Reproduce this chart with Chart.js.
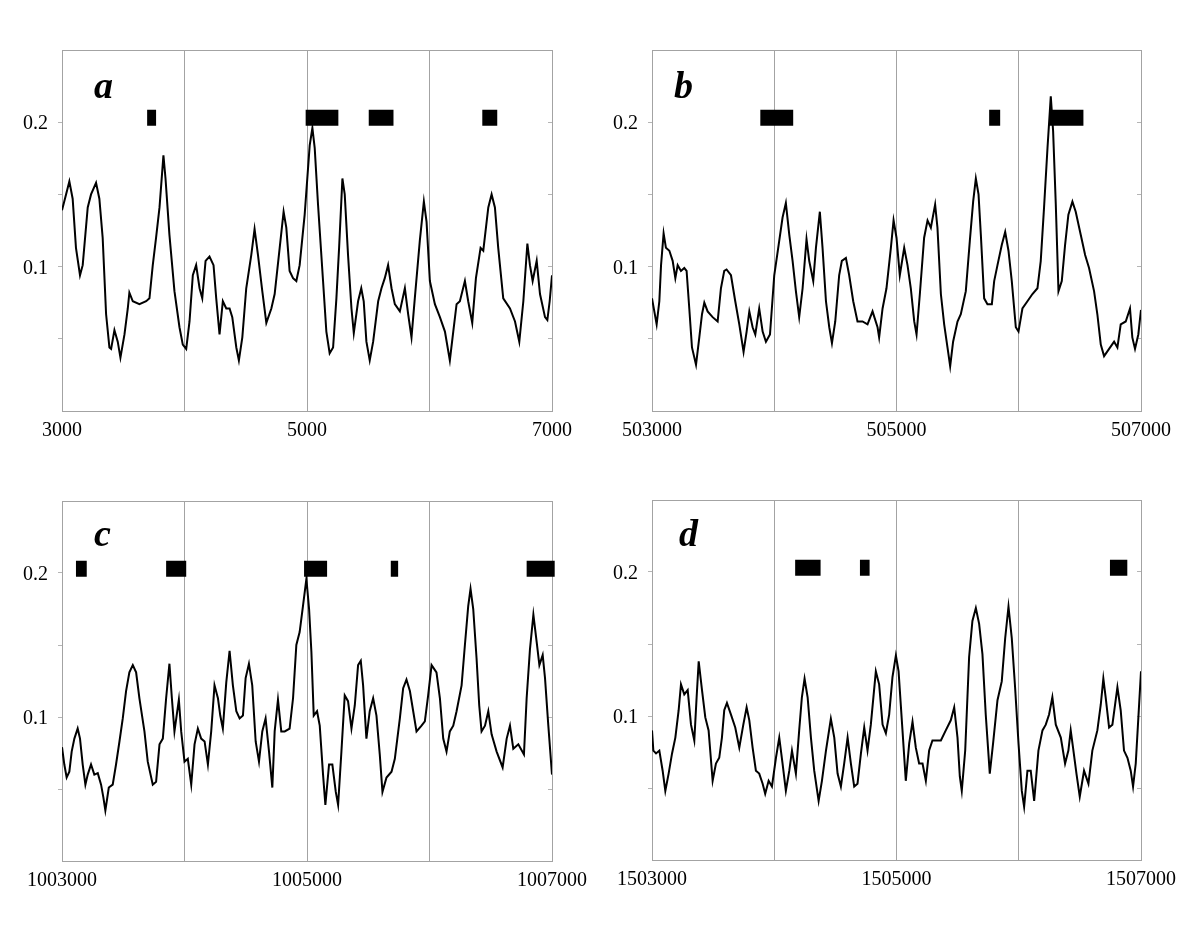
<!DOCTYPE html>
<html>
<head>
<meta charset="utf-8">
<script src="https://cdn.jsdelivr.net/npm/chart.js@4.4.1/dist/chart.umd.min.js"></script>
<style>
html,body{margin:0;padding:0;background:#fff;}
#wrap{position:relative;width:1200px;height:948px;overflow:hidden;}
.panel{position:absolute;}
.lbl{position:absolute;font-family:'Liberation Serif','Times New Roman',serif;font-style:italic;font-weight:bold;font-size:38px;line-height:38px;color:#000;}
</style>
</head>
<body>
<div id="wrap">
  <div class="panel" style="left:0;top:0;width:600px;height:450px"><canvas id="ca"></canvas></div>
  <div class="panel" style="left:600px;top:0;width:600px;height:450px"><canvas id="cb"></canvas></div>
  <div class="panel" style="left:0;top:450px;width:600px;height:498px"><canvas id="cc"></canvas></div>
  <div class="panel" style="left:600px;top:450px;width:600px;height:498px"><canvas id="cd"></canvas></div>
  <div class="lbl" style="left:94px;top:66px">a</div>
  <div class="lbl" style="left:674px;top:66px">b</div>
  <div class="lbl" style="left:94px;top:514px">c</div>
  <div class="lbl" style="left:679px;top:514px">d</div>
</div>
<script>
// ---------- data ----------
const panelLetters = ['a','b','c','d'];
const windowStarts = [3000, 503000, 1003000, 1503000];
const windowEnds   = [7000, 507000, 1007000, 1507000];
const xTickLabelsA = [3000, 5000, 7000];
const xTickLabelsB = [503000, 505000, 507000];
const xTickLabelsC = [1003000, 1005000, 1007000];
const xTickLabelsD = [1503000, 1505000, 1507000];
const yTickLabels = [0.1, 0.2];
const boxLevel = 0.203;

const traceA = [[3000,0.139],[3033,0.150],[3060,0.159],[3087,0.147],[3114,0.113],[3147,0.094],[3169,0.101],[3210,0.141],[3237,0.150],[3278,0.158],[3305,0.147],[3332,0.120],[3360,0.067],[3387,0.044],[3401,0.043],[3428,0.056],[3455,0.048],[3477,0.037],[3510,0.053],[3537,0.071],[3550,0.082],[3578,0.076],[3632,0.074],[3687,0.076],[3714,0.078],[3741,0.101],[3768,0.120],[3796,0.141],[3828,0.177],[3845,0.161],[3877,0.122],[3918,0.083],[3959,0.058],[3986,0.046],[4014,0.043],[4041,0.062],[4068,0.094],[4095,0.101],[4123,0.085],[4145,0.078],[4172,0.104],[4204,0.107],[4237,0.101],[4259,0.078],[4286,0.053],[4313,0.076],[4341,0.071],[4368,0.071],[4390,0.065],[4423,0.044],[4444,0.035],[4472,0.051],[4504,0.085],[4545,0.108],[4572,0.126],[4600,0.108],[4635,0.083],[4668,0.061],[4709,0.071],[4736,0.081],[4777,0.113],[4809,0.138],[4831,0.127],[4858,0.097],[4886,0.092],[4913,0.090],[4940,0.101],[4981,0.136],[5022,0.184],[5044,0.196],[5063,0.182],[5090,0.143],[5131,0.090],[5158,0.055],[5185,0.040],[5213,0.044],[5240,0.078],[5262,0.113],[5289,0.161],[5308,0.150],[5335,0.108],[5363,0.071],[5382,0.054],[5417,0.076],[5443,0.085],[5463,0.076],[5485,0.048],[5512,0.035],[5540,0.048],[5581,0.076],[5608,0.085],[5635,0.092],[5662,0.101],[5690,0.085],[5717,0.074],[5758,0.069],[5799,0.085],[5826,0.067],[5853,0.051],[5880,0.078],[5921,0.118],[5954,0.145],[5976,0.131],[6003,0.090],[6044,0.074],[6085,0.065],[6126,0.055],[6166,0.035],[6194,0.055],[6221,0.074],[6248,0.076],[6289,0.090],[6316,0.076],[6349,0.061],[6379,0.092],[6417,0.113],[6439,0.111],[6480,0.141],[6507,0.150],[6534,0.141],[6561,0.113],[6602,0.078],[6657,0.071],[6698,0.062],[6733,0.048],[6766,0.076],[6799,0.116],[6820,0.101],[6842,0.090],[6875,0.104],[6902,0.081],[6943,0.065],[6962,0.063],[6981,0.076],[7000,0.094]];

const traceB = [[503000,0.078],[503019,0.069],[503038,0.060],[503060,0.076],[503074,0.101],[503095,0.123],[503114,0.113],[503142,0.111],[503169,0.104],[503191,0.092],[503210,0.101],[503237,0.097],[503264,0.099],[503283,0.097],[503305,0.071],[503327,0.044],[503360,0.032],[503387,0.051],[503409,0.067],[503428,0.075],[503455,0.069],[503496,0.065],[503537,0.062],[503564,0.085],[503591,0.097],[503610,0.098],[503646,0.094],[503681,0.076],[503714,0.060],[503749,0.041],[503774,0.055],[503796,0.069],[503823,0.058],[503845,0.053],[503877,0.071],[503905,0.055],[503932,0.048],[503965,0.053],[504000,0.094],[504036,0.115],[504068,0.134],[504095,0.144],[504123,0.122],[504150,0.104],[504177,0.083],[504204,0.065],[504232,0.085],[504264,0.119],[504286,0.104],[504319,0.090],[504341,0.113],[504373,0.138],[504395,0.113],[504423,0.076],[504450,0.058],[504472,0.047],[504499,0.062],[504531,0.094],[504553,0.104],[504586,0.106],[504613,0.094],[504646,0.076],[504681,0.062],[504722,0.062],[504763,0.060],[504804,0.069],[504845,0.058],[504858,0.051],[504886,0.071],[504918,0.085],[504954,0.113],[504976,0.132],[505000,0.120],[505027,0.094],[505063,0.113],[505090,0.101],[505117,0.085],[505145,0.062],[505164,0.053],[505191,0.081],[505226,0.120],[505254,0.132],[505281,0.127],[505316,0.143],[505335,0.127],[505363,0.081],[505390,0.060],[505417,0.044],[505439,0.031],[505463,0.048],[505499,0.062],[505526,0.067],[505567,0.083],[505600,0.118],[505627,0.145],[505649,0.161],[505671,0.150],[505690,0.122],[505717,0.078],[505744,0.074],[505780,0.074],[505799,0.090],[505826,0.101],[505861,0.115],[505889,0.124],[505916,0.111],[505943,0.090],[505976,0.058],[505998,0.055],[506030,0.071],[506071,0.076],[506112,0.081],[506153,0.085],[506180,0.104],[506207,0.141],[506235,0.182],[506262,0.218],[506281,0.194],[506303,0.143],[506325,0.083],[506352,0.090],[506379,0.115],[506406,0.136],[506439,0.145],[506466,0.138],[506507,0.122],[506543,0.108],[506575,0.099],[506616,0.083],[506643,0.067],[506671,0.046],[506698,0.038],[506739,0.043],[506780,0.048],[506807,0.044],[506834,0.060],[506875,0.062],[506910,0.071],[506929,0.051],[506951,0.043],[506978,0.053],[507000,0.070]];

const traceC = [[1003000,0.079],[1003019,0.067],[1003038,0.058],[1003060,0.062],[1003079,0.076],[1003101,0.085],[1003128,0.092],[1003147,0.085],[1003169,0.067],[1003191,0.053],[1003210,0.060],[1003237,0.067],[1003264,0.060],[1003292,0.061],[1003319,0.053],[1003338,0.044],[1003354,0.035],[1003382,0.051],[1003414,0.053],[1003441,0.067],[1003469,0.083],[1003496,0.099],[1003523,0.118],[1003550,0.131],[1003578,0.136],[1003605,0.131],[1003632,0.113],[1003673,0.090],[1003700,0.069],[1003741,0.053],[1003768,0.055],[1003796,0.081],[1003823,0.085],[1003850,0.113],[1003877,0.137],[1003897,0.113],[1003918,0.090],[1003954,0.112],[1003973,0.090],[1004000,0.069],[1004027,0.071],[1004055,0.053],[1004082,0.081],[1004109,0.092],[1004136,0.085],[1004164,0.083],[1004191,0.067],[1004218,0.090],[1004245,0.122],[1004273,0.113],[1004292,0.101],[1004313,0.092],[1004341,0.124],[1004368,0.146],[1004395,0.122],[1004423,0.104],[1004450,0.099],[1004477,0.101],[1004499,0.127],[1004526,0.137],[1004553,0.122],[1004581,0.083],[1004608,0.069],[1004635,0.090],[1004662,0.099],[1004690,0.076],[1004717,0.051],[1004736,0.090],[1004763,0.112],[1004790,0.090],[1004818,0.090],[1004858,0.092],[1004886,0.113],[1004913,0.150],[1004940,0.159],[1004967,0.177],[1004995,0.196],[1005017,0.175],[1005036,0.145],[1005055,0.101],[1005082,0.104],[1005104,0.094],[1005131,0.060],[1005150,0.039],[1005180,0.067],[1005207,0.067],[1005235,0.048],[1005254,0.039],[1005281,0.076],[1005308,0.115],[1005335,0.111],[1005363,0.092],[1005390,0.108],[1005417,0.136],[1005439,0.139],[1005458,0.122],[1005485,0.085],[1005512,0.104],[1005540,0.113],[1005567,0.101],[1005594,0.074],[1005616,0.048],[1005649,0.058],[1005690,0.062],[1005717,0.071],[1005758,0.099],[1005785,0.120],[1005812,0.126],[1005840,0.118],[1005867,0.104],[1005894,0.090],[1005935,0.094],[1005962,0.097],[1005989,0.115],[1006017,0.136],[1006057,0.131],[1006085,0.113],[1006112,0.085],[1006139,0.076],[1006166,0.090],[1006194,0.094],[1006221,0.104],[1006262,0.122],[1006289,0.150],[1006316,0.177],[1006335,0.189],[1006357,0.175],[1006384,0.141],[1006406,0.108],[1006425,0.090],[1006453,0.094],[1006480,0.104],[1006507,0.088],[1006548,0.076],[1006597,0.065],[1006630,0.085],[1006657,0.094],[1006684,0.078],[1006725,0.081],[1006771,0.074],[1006793,0.113],[1006820,0.147],[1006848,0.171],[1006875,0.152],[1006897,0.136],[1006924,0.143],[1006943,0.127],[1006970,0.094],[1007000,0.060]];

const traceD = [[1503000,0.090],[1503011,0.076],[1503033,0.074],[1503060,0.076],[1503087,0.062],[1503109,0.048],[1503136,0.060],[1503164,0.074],[1503191,0.085],[1503218,0.104],[1503237,0.122],[1503264,0.115],[1503292,0.118],[1503319,0.094],[1503346,0.083],[1503365,0.113],[1503382,0.138],[1503409,0.118],[1503436,0.099],[1503463,0.090],[1503496,0.055],[1503523,0.067],[1503550,0.071],[1503572,0.085],[1503591,0.104],[1503613,0.109],[1503646,0.101],[1503681,0.092],[1503714,0.078],[1503747,0.094],[1503774,0.106],[1503796,0.097],[1503823,0.078],[1503850,0.062],[1503877,0.060],[1503905,0.053],[1503926,0.046],[1503954,0.055],[1503981,0.051],[1504014,0.071],[1504041,0.085],[1504068,0.067],[1504095,0.048],[1504123,0.062],[1504145,0.076],[1504177,0.060],[1504204,0.090],[1504226,0.113],[1504248,0.126],[1504273,0.113],[1504300,0.085],[1504327,0.062],[1504363,0.041],[1504390,0.055],[1504423,0.076],[1504463,0.098],[1504491,0.085],[1504518,0.060],[1504545,0.051],[1504572,0.067],[1504600,0.085],[1504627,0.067],[1504654,0.051],[1504681,0.053],[1504709,0.074],[1504736,0.092],[1504763,0.076],[1504790,0.094],[1504831,0.131],[1504858,0.122],[1504886,0.094],[1504913,0.088],[1504940,0.101],[1504967,0.127],[1504995,0.142],[1505017,0.131],[1505049,0.090],[1505076,0.055],[1505104,0.081],[1505131,0.096],[1505158,0.078],[1505185,0.067],[1505213,0.067],[1505240,0.055],[1505267,0.076],[1505294,0.083],[1505322,0.083],[1505363,0.083],[1505403,0.090],[1505444,0.097],[1505472,0.106],[1505499,0.085],[1505518,0.058],[1505534,0.048],[1505562,0.076],[1505594,0.141],[1505621,0.166],[1505649,0.175],[1505676,0.164],[1505703,0.143],[1505730,0.101],[1505763,0.060],[1505790,0.081],[1505826,0.111],[1505861,0.124],[1505889,0.154],[1505916,0.176],[1505943,0.154],[1505970,0.120],[1505998,0.081],[1506025,0.048],[1506044,0.037],[1506071,0.062],[1506098,0.062],[1506126,0.041],[1506161,0.076],[1506194,0.090],[1506221,0.094],[1506248,0.101],[1506275,0.113],[1506303,0.094],[1506344,0.085],[1506379,0.067],[1506406,0.076],[1506425,0.090],[1506444,0.078],[1506472,0.060],[1506499,0.044],[1506534,0.062],[1506570,0.053],[1506602,0.076],[1506643,0.090],[1506671,0.108],[1506692,0.126],[1506711,0.113],[1506739,0.092],[1506766,0.094],[1506807,0.120],[1506834,0.104],[1506861,0.076],[1506889,0.071],[1506916,0.062],[1506935,0.051],[1506957,0.067],[1507000,0.131]];

const boxesA = [[3695,3768],[4989,5256],[5504,5706],[6431,6553]];
const boxesB = [[503886,504155],[505758,505848],[506248,506529]];
const boxesC = [[1003114,1003202],[1003850,1004014],[1004976,1005164],[1005684,1005744],[1006793,1007022]];
const boxesD = [[1504171,1504379],[1504701,1504780],[1506746,1506888]];

// ---------- drawing ----------
const FONT = "'Liberation Serif','Times New Roman',serif";
const GRID = '#a3a3a3';
Chart.defaults.font.family = FONT;

function near(v, list) { return list.some(t => Math.abs(t - v) < 1e-9); }

function makeChart(id, min, max, trace, boxes, xLabels, lay) {
  const boxData = [];
  boxes.forEach(([s, e]) => {
    boxData.push({x: s, y: boxLevel}, {x: e, y: boxLevel}, {x: e, y: null});
  });
  new Chart(document.getElementById(id), {
    type: 'line',
    data: {
      datasets: [
        {data: trace.map(([x, y]) => ({x, y})), borderColor: '#000', borderWidth: 2,
         pointRadius: 0, tension: 0, fill: false},
        {data: boxData, borderColor: '#000', backgroundColor: '#000', borderWidth: 16,
         borderCapStyle: 'butt', pointRadius: 0, spanGaps: false, fill: false, clip: false}
      ]
    },
    options: {
      responsive: true, maintainAspectRatio: false, animation: false, events: [],
      layout: {padding: {top: lay.top, right: lay.right, left: 0, bottom: 0}},
      plugins: {legend: {display: false}, tooltip: {enabled: false}, title: {display: false}},
      scales: {
        x: {
          type: 'linear', min: min, max: max,
          ticks: {stepSize: 1000, autoSkip: false, maxRotation: 0, minRotation: 0,
                  color: '#000', font: {size: 20, family: FONT}, padding: 8,
                  callback: v => near(v, xLabels) ? String(v) : ''},
          grid: {color: GRID, lineWidth: 1, drawTicks: false},
          border: {color: GRID},
          afterFit: s => { s.height = lay.xh; }
        },
        y: {
          min: 0, max: 0.25,
          ticks: {stepSize: 0.05, color: '#000', font: {size: 20, family: FONT}, padding: 10,
                  labelOffset: 2,
                  callback: v => near(v, yTickLabels) ? String(Math.round(v * 10) / 10) : ''},
          grid: {
            color: c => (c.tick && Math.abs(c.tick.value - 0.25) < 1e-9) ? GRID : 'rgba(0,0,0,0)',
            tickColor: c => (c.tick && c.tick.value > 1e-9 && c.tick.value < 0.249) ? '#b5b5b5' : 'rgba(0,0,0,0)',
            tickLength: 4, lineWidth: 1
          },
          border: {color: GRID},
          afterFit: s => { s.width = lay.yw; }
        },
        y2: {
          position: 'right', min: 0, max: 0.25,
          ticks: {stepSize: 0.05, display: false},
          grid: {drawOnChartArea: false, tickLength: -4,
                 tickColor: c => (c.tick && c.tick.value > 1e-9 && c.tick.value < 0.249) ? '#b5b5b5' : 'rgba(0,0,0,0)'},
          border: {display: false},
          afterFit: s => { s.width = 0; }
        }
      }
    }
  });
}

makeChart('ca', windowStarts[0], windowEnds[0], traceA, boxesA, xTickLabelsA, {top: 50, right: 48, yw: 62, xh: 39});
makeChart('cb', windowStarts[1], windowEnds[1], traceB, boxesB, xTickLabelsB, {top: 50, right: 59, yw: 52, xh: 39});
makeChart('cc', windowStarts[2], windowEnds[2], traceC, boxesC, xTickLabelsC, {top: 51, right: 48, yw: 62, xh: 87});
makeChart('cd', windowStarts[3], windowEnds[3], traceD, boxesD, xTickLabelsD, {top: 50, right: 59, yw: 52, xh: 88});
</script>
</body>
</html>
